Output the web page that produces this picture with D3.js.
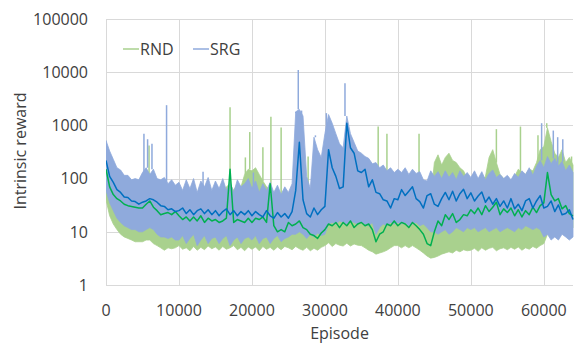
<!DOCTYPE html>
<html><head><meta charset="utf-8">
<script src="https://cdn.jsdelivr.net/npm/d3@7"></script>
<style>
html,body{margin:0;padding:0;background:#fff;}
svg{display:block;}
text{font-family:"Open Sans",sans-serif;fill:#404040;}
</style></head><body>
<svg id="c" width="574" height="343"></svg>
<script>
// sampling step of the series (episodes)
const step = 500;
const yTicks = [1, 10, 100, 1000, 10000, 100000];
const xTicks = [0, 10000, 20000, 30000, 40000, 50000, 60000];
const seriesNames = ["RND", "SRG"];

const srgMean = [220,110,85,62,55,45,44,38,37,33,
36,38,42,40,36,31,30,26,27,24,
25,28,22,26,21,25,27,22,26,21,
25,20,24,27,21,25,20,24,21,25,
20,24,21,19,25,20,18,23,19,22,
18,24,60,480,40,22,19,28,21,26,
30,350,160,110,65,70,1100,380,300,140,
130,150,70,95,55,52,40,38,28,42,
40,62,48,58,70,42,37,28,48,52,
33,30,42,55,40,58,38,52,63,42,
54,38,47,56,36,45,33,42,30,38,
28,42,27,33,25,38,42,28,38,48,
28,30,38,24,32,21,22,26,17];

const srgHigh = [520,330,230,160,145,115,115,95,100,95,
130,160,120,150,100,95,105,80,95,75,
85,60,95,65,100,55,90,70,105,60,
90,65,100,60,85,55,95,70,80,100,
65,90,55,80,60,85,55,75,50,70,
55,80,1800,2000,1500,110,65,600,350,250,
700,1600,1100,700,450,380,1500,700,480,330,
300,260,240,190,200,160,180,140,160,130,
150,130,160,120,150,125,135,95,90,140,
110,135,100,140,105,130,95,140,110,130,
105,140,100,135,95,125,145,105,120,100,
115,95,125,105,140,120,160,115,170,220,
160,260,190,240,170,210,140,180,130];

const srgLow = [60,35,25,18,15,13,12,11,11,10,
10,11,12,11,9,8,8,7.5,8,7,
7,8.5,6,7.5,9,5.5,7,8.5,6,7.5,
8,6,7.5,8.5,5.5,7,8,6,7.5,8,
7,8.5,6,7.5,8,6,7.5,8.5,6.5,7.5,
8,9,9,10,9,7.5,9,8,9.5,8.5,
9,14,15,14,16,15,14,16,15,14,
15,14,13,15,9,12,14,13,15,14,
15,14,15,13,14,15,13,14,12,10,
10,9,10,11,9,10,12,11,10,12,
11,12,10,11,12,10,11,12,10,11,
12,11,10,12,11,13,12,11,12,11,
8,9,7,8,7,9,8,7,8];

const rndMean = [150,70,50,42,38,33,31,30,29,28,
28,33,38,29,25,21,22,23,21,24,
20,17,19,16,19,16,20,15,18,16,
17,15,16,18,150,15,17,16,15,18,
15,18,17,19,15,80,13,10,11,10,
15,13,14,16,12,11,9,8.5,7.5,9.5,
11,14,13,15,12,15,13,16,12,14,
15,13,14,11,6.5,9,10,14,13,16,
13,15,14,12,15,13,11,9,6,5.5,
10,16,13,21,17,22,15,17,21,20,
26,22,28,21,31,24,29,36,21,27,
23,28,20,26,19,25,21,29,23,31,
35,130,50,38,42,27,31,22,20];

const rndHigh = [400,250,180,130,110,95,85,80,75,80,
80,150,120,90,80,60,55,60,50,55,
50,45,55,50,60,45,55,50,60,50,
55,60,50,70,80,60,80,70,120,150,
140,160,120,90,70,60,50,45,40,45,
50,45,40,45,50,40,30,28,30,35,
40,45,40,45,50,45,40,45,40,45,
40,45,40,35,30,35,40,45,40,45,
45,40,45,40,45,40,35,30,25,40,
200,280,180,250,300,220,200,160,140,100,
90,80,100,90,110,250,350,200,120,100,
100,90,110,150,130,120,150,140,200,350,
400,900,500,300,250,350,200,250,180];

const rndLow = [40,20,14,11,9,8,7.5,7,6.5,6.5,
6.5,7,7,6,5.5,5,4.5,5,4.8,5,
5.5,4.7,5,4.4,5.3,4.5,5.1,4.6,5.4,4.8,
5.2,4.5,5.3,4.7,5,5.5,4.6,5.1,4.4,5.2,
4.7,5.2,4.4,5.3,4.7,5.1,4.5,5.2,4.6,5.3,
5,4.6,5.3,4.8,4.5,5.1,4.4,4.9,4.5,5.1,
5.5,6.2,5.3,6,5.6,5.4,6.1,5.4,5.9,5.6,
5.5,5,4.5,4.2,3.8,4,4.2,4.5,5,5.5,
5.5,5,5.5,5,5.5,5,4.5,4,3.5,3.2,
3.3,3.5,3.8,4,4.2,4,4.5,4.2,4.6,4.4,
4.5,4.9,4.3,5,4.5,4.9,5.1,4.4,4.8,5,
4.6,5.1,4.7,5.2,4.5,5,4.7,5.3,4.9,5.5,
6,9,10,11,10,12,11,10,12];

// narrow spikes: [episode, peak value]
const srgSpikeEp   = [5200,5700,6300,8300,13300,20200,26000,26350,26800,28700,30200,32750,59700,61300,61900,62600];
const srgSpikeVal  = [700,550,450,2400,135,130,1700,11000,1900,650,1700,6200,1100,800,600,550];
const rndSpikeEp   = [5900,17000,19100,19700,21500,22600,24000,27700,37300,38500,42900,53500,56800,59200,60400,63800];
const rndSpikeVal  = [420,2200,250,750,390,1450,910,260,950,700,700,850,950,650,1100,260];

const colors = {rndBand:"#a9d18e", srgBand:"#8faadc", rndLine:"#00b050", srgLine:"#0070c0"};

const svg = d3.select("#c");
const L = 106, R = 573, T = 19, B = 285;
const x = d3.scaleLinear().domain([0, 64000]).range([L, R]);
const y = d3.scaleLog().domain([1, 100000]).range([B, T]);

// grid
const g = svg.append("g");
g.selectAll(".hg").data(yTicks).enter().append("line")
  .attr("x1", L).attr("x2", R).attr("y1", d => Math.round(y(d)) + 0.5).attr("y2", d => Math.round(y(d)) + 0.5)
  .attr("stroke", "#d9d9d9").attr("stroke-width", 1);
g.selectAll(".vg").data(xTicks).enter().append("line")
  .attr("y1", T).attr("y2", B).attr("x1", d => Math.round(x(d)) + 0.5).attr("x2", d => Math.round(x(d)) + 0.5)
  .attr("stroke", "#d9d9d9").attr("stroke-width", 1);

svg.append("clipPath").attr("id", "clp").append("rect")
  .attr("x", L).attr("y", T).attr("width", R - L + 2).attr("height", B - T);
const plot = svg.append("g").attr("clip-path", "url(#clp)");

const idx = d3.range(srgMean.length);
const ep = i => i * step;

function band(hi, lo, color) {
  const a = d3.area().x(i => x(ep(i))).y0(i => y(lo[i])).y1(i => y(hi[i]));
  plot.append("path").attr("d", a(idx)).attr("fill", color).attr("stroke", color).attr("stroke-width", 0.8);
}
function spikes(eps, vals, hi, color) {
  plot.selectAll(null).data(eps).enter().append("line")
    .attr("x1", d => x(d)).attr("x2", d => x(d))
    .attr("y1", d => y(hi[Math.round(d / step)]))
    .attr("y2", (d, k) => y(vals[k]))
    .attr("stroke", color).attr("stroke-width", 1.5);
}
function meanLine(m, color) {
  const l = d3.line().x(i => x(ep(i))).y(i => y(m[i]));
  plot.append("path").attr("d", l(idx)).attr("fill", "none").attr("stroke", color).attr("stroke-width", 1.5).attr("stroke-linejoin", "round");
}

band(rndHigh, rndLow, colors.rndBand);
spikes(rndSpikeEp, rndSpikeVal, rndHigh, colors.rndBand);
band(srgHigh, srgLow, colors.srgBand);
spikes(srgSpikeEp, srgSpikeVal, srgHigh, colors.srgBand);
meanLine(rndMean, colors.rndLine);
meanLine(srgMean, colors.srgLine);

// axis labels
svg.selectAll(".yl").data(yTicks).enter().append("text")
  .attr("x", 88).attr("y", d => y(d)).attr("dy", "0.36em").attr("text-anchor", "end")
  .attr("font-size", 16).text(d => d);
svg.selectAll(".xl").data(xTicks).enter().append("text")
  .attr("x", d => x(d)).attr("y", 316).attr("text-anchor", "middle")
  .attr("font-size", 16).text(d => d);
svg.append("text").attr("x", (L + R) / 2).attr("y", 339).attr("text-anchor", "middle")
  .attr("font-size", 16).text("Episode");
svg.append("text").attr("transform", "translate(26,151) rotate(-90)").attr("text-anchor", "middle")
  .attr("font-size", 16).text("Intrinsic reward");

// legend
const leg = [[seriesNames[0], colors.rndBand, 123], [seriesNames[1], colors.srgBand, 193]];
leg.forEach(([name, c, lx]) => {
  svg.append("line").attr("x1", lx).attr("x2", lx + 16).attr("y1", 49).attr("y2", 49).attr("stroke", c).attr("stroke-width", 1.5);
  svg.append("text").attr("x", lx + 17).attr("y", 49).attr("dy", "0.36em").attr("font-size", 16).text(name);
});
</script></body></html>
